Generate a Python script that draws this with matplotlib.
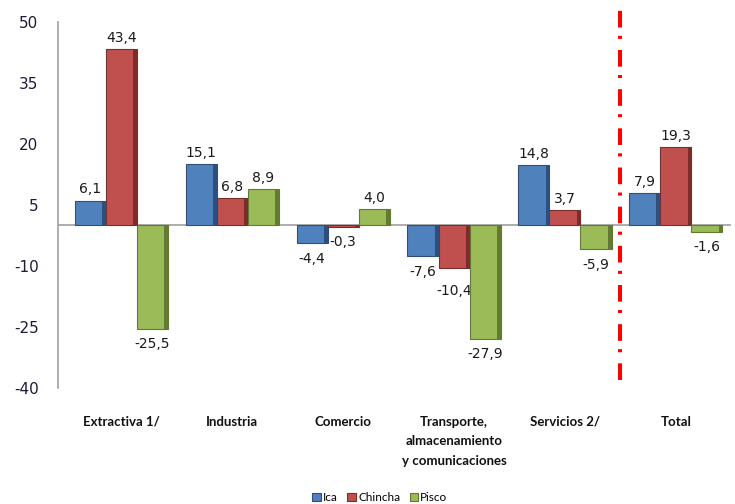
import matplotlib
matplotlib.use("Agg")
import matplotlib.pyplot as plt
import numpy as np

# Datos: variacion porcentual por sector
sectores = ["Extractiva 1/", "Industria", "Comercio",
            "Transporte,\nalmacenamiento\ny comunicaciones",
            "Servicios 2/", "Total"]
ica = [6.1, 15.1, -4.4, -7.6, 14.8, 7.9]
chincha = [43.4, 6.8, -0.3, -10.4, 3.7, 19.3]
pisco = [-25.5, 8.9, 4.0, -27.9, -5.9, -1.6]
series = ["Ica", "Chincha", "Pisco"]
yticks = [-40, -25, -10, 5, 20, 35, 50]

colores = ["#4F81BD", "#C0504D", "#9BBB59"]
sombras = ["#2F4F7A", "#7A2E2C", "#627A33"]

plt.rcParams["font.family"] = ["DejaVu Sans"]
plt.rcParams["lines.scale_dashes"] = False

fig = plt.figure(figsize=(7.35, 5.04), dpi=100)
ax = fig.add_axes([0.079, 0.2302, 0.916, 0.7261])

x = np.arange(len(sectores))
w = 0.28
sw = 0.035
for i, (vals, nombre) in enumerate(zip([ica, chincha, pisco], series)):
    pos = x + (i - 1) * w
    ax.bar(pos, vals, w, color=colores[i], edgecolor=sombras[i],
           linewidth=0.8, label=nombre, zorder=3)
    # sombra lateral (efecto 3D)
    ax.bar(pos + w / 2 - sw / 2, vals, sw, color=sombras[i],
           linewidth=0, zorder=4)
    for xp, v in zip(pos, vals):
        txt = f"{v:.1f}".replace(".", ",")
        if v >= 0:
            ax.annotate(txt, (xp, v), xytext=(0, 3), textcoords="offset points",
                        ha="center", va="bottom", fontsize=10, color="#1a1a1a")
        else:
            dy = -12 if v == -10.4 else -6
            ax.annotate(txt, (xp, v), xytext=(0, dy), textcoords="offset points",
                        ha="center", va="top", fontsize=10, color="#1a1a1a")

ax.axhline(0, color="#A0A0A0", linewidth=1.2, zorder=2)

# linea separadora del total
sep = ax.axvline(4.5, ymin=0.022, ymax=1.033, color="#FF0000", linewidth=2.9,
                 clip_on=False, zorder=5)
sep.set_dashes((12, 8, 2.2, 6))

ax.set_xlim(-0.57, 5.5)
ax.set_ylim(-40, 50)
ax.set_yticks(yticks)
ax.set_yticklabels([str(t) for t in yticks], fontsize=11, color="#1c1c3a")
ax.set_xticks(x)
ax.set_xticklabels(sectores, fontsize=9.5, fontweight="bold",
                   family=["Lato", "DejaVu Sans"], color="#111111",
                   linespacing=1.75)
ax.tick_params(axis="both", length=0)
ax.tick_params(axis="y", pad=14)
ax.tick_params(axis="x", pad=20)

for s in ["top", "right", "bottom"]:
    ax.spines[s].set_visible(False)
ax.spines["left"].set_color("#A0A0A0")
ax.spines["left"].set_linewidth(1.2)

fig.legend(loc="center", bbox_to_anchor=(0.517, 0.012), ncol=3, frameon=False,
           prop={"family": ["Lato", "DejaVu Sans"], "size": 8.5},
           handlelength=0.7, handleheight=0.7, handletextpad=0.2,
           columnspacing=0.8)

fig.savefig("out.png", dpi=100)
